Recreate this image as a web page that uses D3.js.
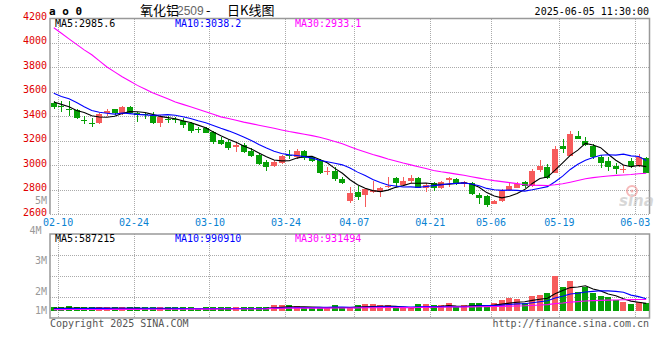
<!DOCTYPE html>
<html>
<head>
<meta charset="utf-8">
<script src="https://cdn.jsdelivr.net/npm/d3@7"></script>
<style>
  body { margin: 0; background: #fff; }
  text { font-family: "DejaVu Sans Mono", monospace; font-size: 10px; }
</style>
</head>
<body>
<script>
// Data
var dates = ['02-10','02-11','02-12','02-13','02-14','02-17','02-18','02-19','02-20','02-21',
  '02-24','02-25','02-26','02-27','02-28','03-03','03-04','03-05','03-06','03-07',
  '03-10','03-11','03-12','03-13','03-14','03-17','03-18','03-19','03-20','03-21',
  '03-24','03-25','03-26','03-27','03-28','03-31','04-01','04-02','04-03',
  '04-07','04-08','04-09','04-10','04-11','04-14','04-15','04-16','04-17','04-18',
  '04-21','04-22','04-23','04-24','04-25','04-28','04-29','04-30',
  '05-06','05-07','05-08','05-09','05-12','05-13','05-14','05-15','05-16',
  '05-19','05-20','05-21','05-22','05-23','05-26','05-27','05-28','05-29','05-30',
  '06-03','06-04','06-05']
var open = [3503,3484,3457,3449,3370,3346,3346,3422,3457,3416,
  3471,3422,3416,3408,3346,3378,3378,3359,3346,3291,
  3299,3272,3204,3190,3144,3163,3117,3082,3027,2992,
  3014,3084,3063,3117,3063,3041,2943,2951,2886,
  2709,2777,2755,2780,2777,2823,2891,2837,2869,2891,
  2810,2850,2809,2880,2886,2845,2856,2755,
  2747,2682,2709,2796,2815,2864,2829,2959,2986,
  2932,3155,3076,3237,3199,3155,3063,3035,2992,2962,
  3033,2992,3054]
var high = [3525,3525,3525,3454,3400,3381,3427,3457,3460,3484,
  3484,3430,3427,3435,3408,3400,3394,3381,3354,3313,
  3313,3280,3226,3204,3177,3177,3136,3095,3041,3041,
  3082,3122,3128,3122,3073,3046,2986,2986,2905,
  2823,2829,2810,2872,2823,2899,2899,2905,2918,2905,
  2850,2864,2872,2899,2891,2872,2864,2774,
  2755,2714,2801,2856,2864,2872,2965,3041,3008,
  3155,3212,3280,3280,3226,3171,3082,3068,3019,3000,
  3054,3087,3068]
var low = [3454,3435,3400,3373,3335,3313,3332,3397,3405,3411,
  3416,3354,3373,3335,3313,3346,3340,3299,3264,3264,
  3259,3171,3163,3122,3109,3095,3068,3000,2951,2981,
  3008,3046,3046,3041,3027,2926,2918,2872,2845,
  2693,2714,2660,2769,2741,2810,2823,2837,2850,2810,
  2782,2790,2801,2818,2837,2818,2755,2682,
  2660,2682,2701,2790,2809,2809,2823,2946,2883,
  2932,3100,3076,3209,3155,3052,2973,2954,2924,2932,
  2973,2986,2932]
var close = [3476,3471,3449,3386,3365,3340,3419,3441,3422,3476,
  3422,3411,3411,3346,3394,3370,3365,3327,3280,3285,
  3264,3190,3171,3141,3160,3109,3073,3008,2986,3027,
  3073,3079,3117,3054,3035,2937,2949,2886,2856,
  2769,2736,2801,2793,2815,2829,2850,2872,2891,2815,
  2837,2810,2864,2891,2845,2864,2763,2728,
  2673,2704,2790,2829,2845,2829,2951,2992,2891,
  3128,3128,3253,3209,3163,3063,3019,2986,2965,2970,
  2992,3068,2937]
var volume = [200000,220000,300000,200000,200000,200000,270000,220000,200000,220000,
  200000,200000,200000,200000,220000,200000,200000,200000,200000,140000,
  200000,200000,200000,200000,200000,200000,200000,220000,260000,370000,
  370000,400000,300000,260000,220000,260000,260000,370000,260000,
  260000,370000,450000,450000,370000,370000,190000,190000,190000,450000,
  450000,370000,370000,530000,260000,370000,530000,530000,
  370000,530000,770000,930000,850000,580000,1090000,1190000,1320000,
  2700000,1800000,2280000,1400000,1830000,1380000,1090000,1010000,770000,610000,
  450000,610000,580000]
// moving average values before enough bars exist
var ma5Head = [3515,3495,3475,3445]
var ma10Head = [3585,3560,3540,3510,3475,3445,3430,3422,3415]
var ma30Head = [4120,4075,4030,3985,3940,3900,3850,3800,3760,3720,
  3685,3650,3620,3590,3565,3540,3515,3495,3475,3455,
  3435,3415,3393,3380,3365,3350,3338,3325,3312]
var vma5Head = [210000,215000,230000,225000]
var vma10Head = [180000,185000,190000,195000,200000,205000,210000,212000,214000]
var vma30Head = [110000,112000,114000,116000,118000,120000,122000,124000,126000,128000,
  130000,132000,134000,136000,138000,140000,142000,144000,146000,148000,
  150000,152000,154000,156000,158000,160000,162000,164000,166000]
var priceTicks = [4200,4000,3800,3600,3400,3200,3000,2800,2600]
var dateTicks = ['02-10','02-24','03-10','03-24','04-07','04-21','05-06','05-19','06-03']
var volTicks = ['5M','4M','3M','2M','1M']
var maLegend = ['MA5:2985.6','MA10:3038.2','MA30:2933.1']
var volLegend = ['MA5:587215','MA10:990910','MA30:931494']

var maColors = ['#000000','#0000ff','#ff00ff']
var upColor = '#f65b5b', downColor = '#06a006'
var n = close.length

function movingAvg (vals, len, head) {
  return vals.map(function (v, i) {
    return i < len - 1 ? head[i] : d3.mean(vals.slice(i - len + 1, i + 1))
  })
}
var priceMA = [movingAvg(close, 5, ma5Head), movingAvg(close, 10, ma10Head), movingAvg(close, 30, ma30Head)]
var volMA = [movingAvg(volume, 5, vma5Head), movingAvg(volume, 10, vma10Head), movingAvg(volume, 30, vma30Head)]

// Scales
var left = 50, right = 649.5
var x = d3.scaleLinear().domain([0, n]).range([left, left + 600])
var y = d3.scaleLinear().domain([2600, 4200]).range([214, 18])
var yv = d3.scaleLinear().domain([0, 1000000]).range([311, 298.4])
// volume labels: 5M..2M evenly spaced, 1M pinned at the bottom
var volLabelY = d3.scalePoint().domain(volTicks.slice(0, 4)).range([200, 291])

var svg = d3.select('body').append('svg')
    .attr('width', 660)
    .attr('height', 360)
    .style('display', 'block')

// Title row
svg.append('text')
    .attr('x', 49).attr('y', 15)
    .attr('font-weight', 'bold').style('font-size', '11px')
    .text('a o 0')
var title = svg.append('text').attr('y', 15)
    .style('font-family', '"Noto Sans CJK SC", sans-serif').style('font-size', '13px')
title.append('tspan').attr('x', 140).text('氧化铝')
title.append('tspan').attr('x', 177).attr('fill', '#666')
    .style('font-family', '"Liberation Sans", sans-serif').style('font-size', '12px').text('2509')
title.append('tspan').attr('x', 206).text('-')
title.append('tspan').attr('x', 227).text('日K线图')
svg.append('text')
    .attr('x', 649).attr('y', 15)
    .style('text-anchor', 'end')
    .text('2025-06-05 11:30:00')

// Grid - main
var grid = svg.append('g')
    .attr('stroke', '#aaa').attr('stroke-dasharray', '1,1')
    .attr('shape-rendering', 'crispEdges')
grid.selectAll('line.h').data(priceTicks.slice(1))
  .enter().append('line')
    .attr('x1', left).attr('x2', right)
    .attr('y1', function (d) { return Math.round(y(d)) + 0.5 })
    .attr('y2', function (d) { return Math.round(y(d)) + 0.5 })
// Grid - volume
grid.selectAll('line.vh').data([255, 276, 297])
  .enter().append('line')
    .attr('x1', left).attr('x2', right)
    .attr('y1', function (d) { return d + 0.5 })
    .attr('y2', function (d) { return d + 0.5 })

// X axis with date labels (line at right edge of the labelled bar)
var tickIdx = dateTicks.map(function (d) { return dates.indexOf(d) + 1 })
var xAxis = d3.axisBottom(x)
    .tickValues(tickIdx)
    .tickFormat(function (d) { return dates[d - 1] })
    .tickSizeInner(-(214 - 18))
    .tickSizeOuter(0)
    .tickPadding(4.5)
var gx = svg.append('g')
    .attr('transform', 'translate(0,214)')
    .call(xAxis)
gx.select('.domain').remove()
gx.selectAll('line')
    .attr('stroke', '#aaa').attr('stroke-dasharray', '1,1')
    .attr('shape-rendering', 'crispEdges')
gx.selectAll('text')
    .attr('fill', '#0a82d2')
    .style('font-family', '"DejaVu Sans Mono", monospace')
    .style('font-size', '10px')
// vertical grid in volume panel
grid.selectAll('line.vv').data(tickIdx)
  .enter().append('line')
    .attr('x1', function (d) { return Math.round(x(d)) + 0.5 })
    .attr('x2', function (d) { return Math.round(x(d)) + 0.5 })
    .attr('y1', 234).attr('y2', 318)

// Frames
var frame = svg.append('g').attr('stroke', '#999').attr('fill', 'none').attr('stroke-width', 1.5)
frame.append('path').attr('d', 'M' + left + ',214V18.5H' + right + 'V214')
frame.append('rect').attr('x', left).attr('y', 234).attr('width', right - left).attr('height', 84)

// Price labels
svg.append('g').selectAll('text').data(priceTicks)
  .enter().append('text')
    .attr('x', 47)
    .attr('y', function (d) { return y(d) + 1.5 })
    .attr('fill', '#e00000')
    .style('text-anchor', 'end')
    .text(function (d) { return d })

// Volume labels (4M nudged left so it clears the first date)
svg.append('g').selectAll('text').data(volTicks)
  .enter().append('text')
    .attr('x', function (d) { return d === '4M' ? 41.5 : 47 })
    .attr('y', function (d) { return d === '1M' ? 313.5 : volLabelY(d) + 3.5 })
    .attr('fill', '#999')
    .style('text-anchor', 'end')
    .text(function (d) { return d })

// Watermark
var wm = svg.append('g').attr('opacity', 0.55)
wm.append('circle').attr('cx', 632).attr('cy', 191).attr('r', 5)
    .attr('fill', 'none').attr('stroke', '#f08080').attr('stroke-width', 2)
wm.append('circle').attr('cx', 632).attr('cy', 191).attr('r', 1.5).attr('fill', '#f08080')
wm.append('text')
    .attr('x', 619).attr('y', 206)
    .style('font-family', '"DejaVu Sans", sans-serif').style('font-size', '15px')
    .attr('font-style', 'italic').attr('font-weight', 'bold').attr('fill', '#b8b8b8')
    .text('sina')

// Candles
var candles = svg.append('g').attr('shape-rendering', 'crispEdges')
  .selectAll('g').data(d3.range(n))
  .enter().append('g')
    .attr('fill', function (i) { return close[i] >= open[i] ? upColor : downColor })
candles.append('rect') // wick
    .attr('x', function (i) { return Math.round(x(i + 0.5) - 3) + 3 })
    .attr('width', 1)
    .attr('y', function (i) { return y(high[i]) })
    .attr('height', function (i) { return Math.max(1, y(low[i]) - y(high[i])) })
candles.append('rect') // body
    .attr('x', function (i) { return Math.round(x(i + 0.5) - 3) })
    .attr('width', 6)
    .attr('y', function (i) { return y(Math.max(open[i], close[i])) })
    .attr('height', function (i) { return Math.max(1, Math.abs(y(open[i]) - y(close[i]))) })

// Price MA lines
var line = d3.line()
    .x(function (d, i) { return x(i + 0.5) })
    .y(function (d) { return y(d) })
svg.append('g').selectAll('path').data(priceMA)
  .enter().append('path')
    .attr('d', line)
    .attr('fill', 'none')
    .attr('stroke', function (d, k) { return maColors[k] })
    .attr('stroke-width', 1.1)

// Volume bars
svg.append('g').attr('shape-rendering', 'crispEdges')
  .selectAll('rect').data(volume)
  .enter().append('rect')
    .attr('x', function (d, i) { return Math.round(x(i + 0.5) - 3) })
    .attr('width', 6)
    .attr('y', function (d) { return yv(d) - 1 })
    .attr('height', function (d) { return yv(0) - yv(d) + 1 })
    .attr('fill', function (d, i) { return close[i] >= open[i] ? upColor : downColor })

// Volume MA lines
var vline = d3.line()
    .x(function (d, i) { return x(i + 0.5) })
    .y(function (d) { return yv(d) })
svg.append('g').selectAll('path').data(volMA)
  .enter().append('path')
    .attr('d', vline)
    .attr('fill', 'none')
    .attr('stroke', function (d, k) { return maColors[k] })
    .attr('stroke-width', 1.1)

// Legends
var legendX = [55, 175, 295]
svg.append('g').selectAll('text').data(maLegend)
  .enter().append('text')
    .attr('x', function (d, k) { return legendX[k] })
    .attr('y', 27)
    .attr('fill', function (d, k) { return maColors[k] })
    .text(function (d) { return d })
svg.append('g').selectAll('text').data(volLegend)
  .enter().append('text')
    .attr('x', function (d, k) { return legendX[k] })
    .attr('y', 242)
    .attr('fill', function (d, k) { return maColors[k] })
    .text(function (d) { return d })

// Footer
svg.append('text')
    .attr('x', 50).attr('y', 327)
    .attr('fill', '#555')
    .text('Copyright 2025 SINA.COM')
svg.append('text')
    .attr('x', 649).attr('y', 327)
    .attr('fill', '#555')
    .style('text-anchor', 'end')
    .text('http://finance.sina.com.cn')
</script>
</body>
</html>
